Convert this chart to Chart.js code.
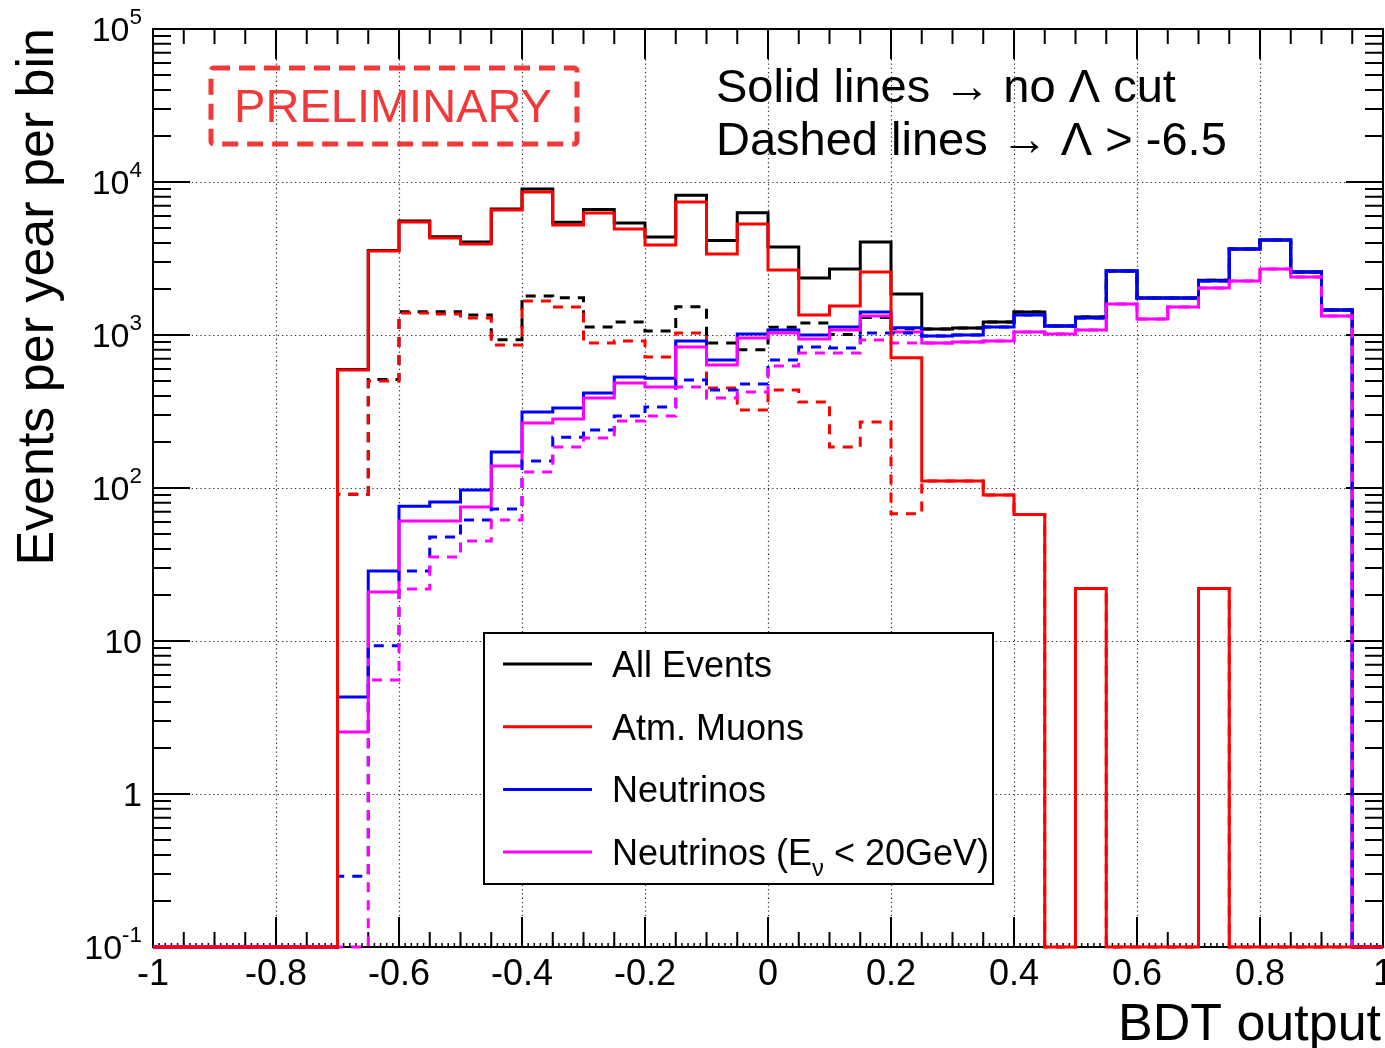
<!DOCTYPE html>
<html>
<head>
<meta charset="utf-8">
<script src="https://cdn.jsdelivr.net/npm/chart.js@4.4.1/dist/chart.umd.min.js"></script>
<style>
  html, body { margin: 0; padding: 0; background: #fff; }
  canvas { display: block; }
</style>
</head>
<body>
<canvas id="bdt-chart" width="1385" height="1048"></canvas>
<script>
const FONT = '"Liberation Sans", Arial, Helvetica, sans-serif';

// histogram binning: 40 bins of 0.05 over the BDT output range
const X_MIN = -1;
const X_MAX = 1;
const BIN_WIDTH = 0.05;
const Y_MIN = 0.1;
const Y_MAX = 1e5;

// events per year per bin, no Lambda cut (solid)
const allEvents = [0, 0, 0, 0, 0, 0, 594, 3570, 5560, 4380, 4050, 6660, 8990, 5450, 6600, 5400, 4370, 8200, 4150, 6300,
  3760, 2360, 2700, 4050, 1853, 1096, 1111, 1216, 1413, 1145, 1311, 2620, 1746, 1746, 2276, 3650, 4180, 2580, 1456, 0];
const atmMuons = [0, 0, 0, 0, 0, 0, 590, 3540, 5480, 4300, 3930, 6560, 8600, 5230, 6270, 4930, 3870, 7400, 3380, 5310,
  2660, 1352, 1548, 2580, 710, 111, 111, 90, 67, 0, 22, 0, 0, 0, 22, 0, 0, 0, 0, 0];
const neutrinos = [0, 0, 0, 0, 0, 0, 4.3, 28.7, 76, 81, 97, 172, 314, 333, 418, 531, 521, 914, 687, 1016,
  1078, 1000, 1128, 1413, 1114, 985, 1000, 1128, 1352, 1145, 1290, 2620, 1746, 1746, 2254, 3650, 4180, 2580, 1456, 0];
const lowEnergyNu = [0, 0, 0, 0, 0, 0, 2.54, 20.9, 60.8, 60.8, 75, 139, 266, 282, 387, 486, 457, 835, 637, 955,
  1030, 940, 1078, 1330, 1046, 887, 900, 914, 1046, 1016, 1078, 1595, 1273, 1524, 2030, 2254, 2700, 2393, 1330, 0];

// same samples after the Lambda > -6.5 cut (dashed)
const allEventsCut = [0, 0, 0, 0, 0, 0, 91, 512, 1420, 1420, 1350, 930, 1800, 1750, 1128, 1216, 1062, 1530, 887, 800,
  1124, 1200, 1007, 1300, 1100, 1096, 1111, 1216, 1413, 1145, 1311, 2620, 1746, 1746, 2276, 3650, 4180, 2580, 1456, 0];
const atmMuonsCut = [0, 0, 0, 0, 0, 0, 91, 500, 1393, 1372, 1290, 860, 1668, 1524, 887, 914, 718, 1030, 451, 323,
  437, 365, 185, 270, 68, 111, 111, 90, 67, 0, 22, 0, 0, 0, 22, 0, 0, 0, 0, 0];
const neutrinosCut = [0, 0, 0, 0, 0, 0, 0.29, 9.3, 28.7, 47.8, 61.8, 72.9, 150, 215, 239, 296, 338, 508, 437, 478,
  687, 835, 822, 1030, 1030, 985, 1000, 1128, 1352, 1145, 1290, 2620, 1746, 1746, 2254, 3650, 4180, 2580, 1456, 0];
const lowEnergyNuCut = [0, 0, 0, 0, 0, 0, 0, 5.56, 21.9, 35.4, 45, 61.8, 127, 185, 212, 274, 296, 457, 387, 424,
  627, 763, 763, 927, 887, 887, 900, 914, 1046, 1016, 1078, 1595, 1273, 1524, 2030, 2254, 2700, 2393, 1330, 0];

// axis ticks
const xTickValues = [-1, -0.8, -0.6, -0.4, -0.2, 0, 0.2, 0.4, 0.6, 0.8, 1];
const xTickLabels = ['-1', '-0.8', '-0.6', '-0.4', '-0.2', '0', '0.2', '0.4', '0.6', '0.8', '1'];
const yTickValues = [0.1, 1, 10, 100, 1000, 10000, 100000];
const yTickLabels = [['10', '-1'], ['1', ''], ['10', ''], ['10', '2'], ['10', '3'], ['10', '4'], ['10', '5']];

const BLACK = '#000000';
const RED = '#ff0000';
const BLUE = '#0000ff';
const MAGENTA = '#ff00ff';

// one point per bin edge; the point at a bin's right edge carries that bin's value
function histPoints(values) {
  const pts = [{ x: X_MIN, y: values[0] > 0 ? values[0] : Y_MIN }];
  values.forEach((v, i) => {
    pts.push({ x: X_MIN + (i + 1) * BIN_WIDTH, y: v > 0 ? v : Y_MIN });
  });
  return pts;
}

function hist(label, values, color, dashed, order) {
  return {
    label: label,
    data: histPoints(values),
    borderColor: color,
    backgroundColor: color,
    borderWidth: 3,
    borderDash: dashed ? [10, 8] : [],
    stepped: 'after',
    pointRadius: 0,
    fill: false,
    clip: 5,
    order: order,
    inLegend: !dashed
  };
}

function drawParts(ctx, parts, x, y, size) {
  // draws text pieces left to right; sub/sup pieces are smaller and shifted
  let cx = x;
  parts.forEach(p => {
    const s = p.sub || p.sup ? size * 0.66 : size;
    ctx.font = s + 'px ' + FONT;
    const dy = p.sub ? size * 0.3 : p.sup ? -size * 0.5 : 0;
    ctx.fillText(p.t, cx, y + dy);
    cx += ctx.measureText(p.t).width;
  });
  return cx - x;
}

function partsWidth(ctx, parts, size) {
  let w = 0;
  parts.forEach(p => {
    ctx.font = (p.sub || p.sup ? size * 0.66 : size) + 'px ' + FONT;
    w += ctx.measureText(p.t).width;
  });
  return w;
}

const legendLabels = [
  [{ t: 'All Events' }],
  [{ t: 'Atm. Muons' }],
  [{ t: 'Neutrinos' }],
  [{ t: 'Neutrinos (E' }, { t: 'ν', sub: true }, { t: ' < 20GeV)' }]
];

const frameAndGrid = {
  id: 'frameAndGrid',
  beforeDatasetsDraw(chart) {
    const ctx = chart.ctx;
    const { left, right, top, bottom } = chart.chartArea;
    const xs = chart.scales.x;
    const ys = chart.scales.y;
    ctx.save();

    // dotted grid
    ctx.strokeStyle = '#333';
    ctx.lineWidth = 1.2;
    ctx.setLineDash([1.3, 3]);
    xTickValues.slice(1, -1).forEach(v => {
      const px = Math.round(xs.getPixelForValue(v)) + 0.5;
      ctx.beginPath(); ctx.moveTo(px, top); ctx.lineTo(px, bottom); ctx.stroke();
    });
    yTickValues.slice(1, -1).forEach(v => {
      const py = Math.round(ys.getPixelForValue(v)) + 0.5;
      ctx.beginPath(); ctx.moveTo(left, py); ctx.lineTo(right, py); ctx.stroke();
    });
    ctx.setLineDash([]);

    // ticks pointing inwards; the finest ones only on the bottom axis
    ctx.strokeStyle = '#000';
    const xTick = (v, len, both) => {
      const px = xs.getPixelForValue(v);
      ctx.beginPath();
      ctx.moveTo(px, bottom); ctx.lineTo(px, bottom - len);
      if (both) { ctx.moveTo(px, top); ctx.lineTo(px, top + len); }
      ctx.stroke();
    };
    ctx.lineWidth = 1.5;
    for (let k = 0; k <= 200; k++) xTick(X_MIN + k * 0.01, 4, false);
    ctx.lineWidth = 2;
    for (let k = 0; k <= 40; k++) xTick(X_MIN + k * BIN_WIDTH, 15, true);
    xTickValues.forEach(v => xTick(v, 30, true));

    const yTick = (v, len) => {
      const py = ys.getPixelForValue(v);
      ctx.beginPath();
      ctx.moveTo(left, py); ctx.lineTo(left + len, py);
      ctx.moveTo(right, py); ctx.lineTo(right - len, py);
      ctx.stroke();
    };
    yTickValues.forEach((v, i) => {
      yTick(v, 37);
      if (i < yTickValues.length - 1) {
        for (let m = 2; m <= 9; m++) yTick(v * m, 18);
      }
    });

    ctx.strokeRect(left, top, right - left, bottom - top);
    ctx.restore();
  },
  afterDatasetsDraw(chart) {
    const ctx = chart.ctx;
    const { right, top, bottom, left } = chart.chartArea;
    const xs = chart.scales.x;
    const ys = chart.scales.y;
    ctx.save();
    ctx.fillStyle = '#000';
    ctx.textBaseline = 'alphabetic';

    // x tick labels
    ctx.font = '36px ' + FONT;
    ctx.textAlign = 'center';
    xTickValues.forEach((v, i) => {
      ctx.fillText(xTickLabels[i], xs.getPixelForValue(v), bottom + 38);
    });

    // y tick labels with exponents
    ctx.textAlign = 'left';
    yTickValues.forEach((v, i) => {
      const parts = [{ t: yTickLabels[i][0] }];
      if (yTickLabels[i][1]) parts.push({ t: yTickLabels[i][1], sup: true });
      const w = partsWidth(ctx, parts, 34);
      drawParts(ctx, parts, left - 11 - w, ys.getPixelForValue(v) + 12, 34);
    });

    // axis titles
    ctx.font = '52px ' + FONT;
    ctx.textAlign = 'right';
    ctx.fillText('BDT output', right - 2, 1040);
    ctx.save();
    ctx.translate(53, top - 1);
    ctx.rotate(-Math.PI / 2);
    ctx.fillText('Events per year per bin', 0, 0);
    ctx.restore();

    // legend box
    const lx = 484, ly = 633, lw = 509, lh = 251;
    ctx.fillStyle = '#fff';
    ctx.fillRect(lx, ly, lw, lh);
    ctx.strokeStyle = '#000';
    ctx.lineWidth = 2;
    ctx.strokeRect(lx, ly, lw, lh);
    const entries = chart.data.datasets.filter(d => d.inLegend);
    entries.forEach((d, i) => {
      const ry = ly + 31 + i * 62.7;
      ctx.strokeStyle = d.borderColor;
      ctx.lineWidth = 3;
      ctx.beginPath(); ctx.moveTo(lx + 19, ry); ctx.lineTo(lx + 108, ry); ctx.stroke();
      ctx.fillStyle = '#000';
      ctx.textAlign = 'left';
      drawParts(ctx, legendLabels[i], lx + 128, ry + 13, 36);
    });

    // cut description
    ctx.fillStyle = '#000';
    ctx.font = '47px ' + FONT;
    ctx.textAlign = 'left';
    ctx.fillText('Solid lines \u2192 no \u039B cut', 716, 102);
    ctx.fillText('Dashed lines \u2192 \u039B > -6.5', 716, 155);

    // preliminary stamp
    const stamp = 'rgba(240, 40, 40, 0.92)';
    ctx.strokeStyle = stamp;
    ctx.lineWidth = 5;
    ctx.lineJoin = 'round';
    ctx.setLineDash([16, 9]);
    ctx.beginPath();
    ctx.roundRect(211, 68, 366, 76, 3);
    ctx.stroke();
    ctx.setLineDash([]);
    ctx.fillStyle = stamp;
    ctx.font = '47px ' + FONT;
    ctx.textAlign = 'center';
    ctx.fillText('PRELIMINARY', 393, 122);

    ctx.restore();
  }
};

const canvas = document.querySelector('#bdt-chart');
new Chart(canvas.getContext('2d'), {
  type: 'line',
  data: {
    datasets: [
      hist('All Events', allEvents, BLACK, false, 8),
      hist('Atm. Muons', atmMuons, RED, false, 1),
      hist('Neutrinos', neutrinos, BLUE, false, 5),
      hist('Neutrinos (Eν < 20GeV)', lowEnergyNu, MAGENTA, false, 4),
      hist('All Events, Λ > -6.5', allEventsCut, BLACK, true, 7),
      hist('Atm. Muons, Λ > -6.5', atmMuonsCut, RED, true, 6),
      hist('Neutrinos, Λ > -6.5', neutrinosCut, BLUE, true, 3),
      hist('Neutrinos (Eν < 20GeV), Λ > -6.5', lowEnergyNuCut, MAGENTA, true, 2)
    ]
  },
  options: {
    responsive: false,
    animation: false,
    devicePixelRatio: 1,
    layout: { padding: { left: 153, right: 2, top: 29, bottom: 101 } },
    scales: {
      x: { type: 'linear', min: X_MIN, max: X_MAX, display: false },
      y: { type: 'logarithmic', min: Y_MIN, max: Y_MAX, display: false }
    },
    plugins: {
      legend: { display: false },
      tooltip: { enabled: false }
    },
    elements: { line: { tension: 0 } }
  },
  plugins: [frameAndGrid]
});
</script>
</body>
</html>
